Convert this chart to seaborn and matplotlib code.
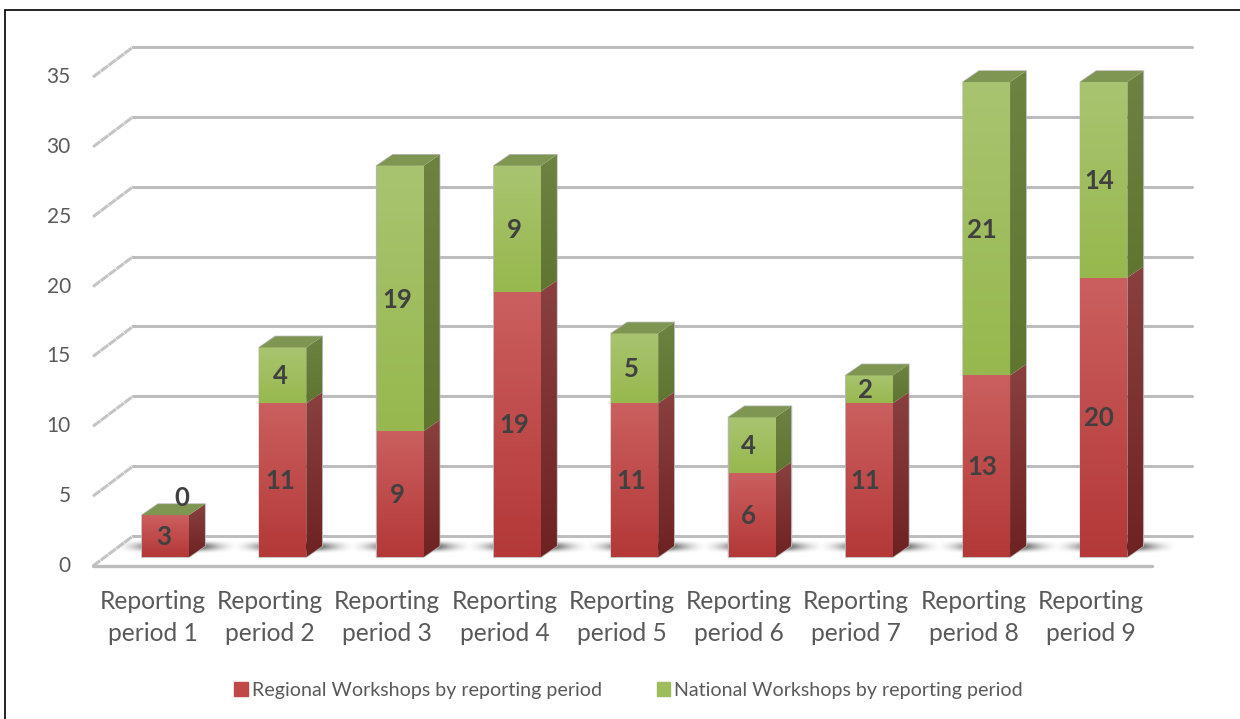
import numpy as np
import seaborn as sns
import matplotlib.pyplot as plt
from matplotlib.patches import Polygon, Rectangle, Patch
from matplotlib.transforms import Affine2D

periods = ['Reporting\nperiod %d' % i for i in range(1, 10)]
regional = [3, 11, 9, 19, 11, 6, 11, 13, 20]
national = [0, 4, 19, 9, 5, 4, 2, 21, 14]
y_ticks = [0, 5, 10, 15, 20, 25, 30, 35]
series_names = ['Regional Workshops by reporting period', 'National Workshops by reporting period']

W, H = 1240, 719
PX_X = 117.3   # pixels per category
PX_Y = 13.97   # pixels per workshop
DX, DY = 16, 11  # bar depth in pixels

sns.set_theme(style='white')
plt.rcParams['font.family'] = ['Lato', 'DejaVu Sans']

fig = plt.figure(figsize=(W / 100, H / 100), dpi=100)
left, right = 93, 1152
y0, ytop = 557, 47
ax = fig.add_axes([left / W, (H - y0) / H, (right - left) / W, (y0 - ytop) / H])

sns.barplot(x=periods, y=regional, color='#C04848', width=0.4, ax=ax, zorder=3, linewidth=0)
sns.barplot(x=periods, y=national, bottom=regional, color='#A0BD5E', width=0.4, ax=ax, zorder=3, linewidth=0)

first_x = (165.5 - left) / PX_X
ax.set_xlim(-first_x, (right - left) / PX_X - first_x)
ax.set_ylim(0, (y0 - ytop) / PX_Y)
ax.set_xlabel('')
ax.set_ylabel('')
for s in ax.spines.values():
    s.set_visible(False)

ax.set_yticks(y_ticks)
ax.tick_params(axis='y', length=0, pad=16, labelsize=15, labelcolor='#595959')
ax.tick_params(axis='x', length=0, pad=24, labelsize=17.7, labelcolor='#595959')
for lab in ax.get_yticklabels():
    lab.set_transform(lab.get_transform() + Affine2D().translate(0, -7))
for lab in ax.get_xticklabels():
    lab.set_linespacing(1.47)
    lab.set_transform(lab.get_transform() + Affine2D().translate(-13, 0))

ddx, ddy = DX / PX_X, DY / PX_Y
xlim, ylim = ax.get_xlim(), ax.get_ylim()


def vgrad(c_top, c_bot, extent, clip, z):
    rgb = np.linspace(plt.matplotlib.colors.to_rgb(c_top), plt.matplotlib.colors.to_rgb(c_bot), 64)[:, None, :]
    im = ax.imshow(rgb, extent=extent, aspect='auto', origin='upper', zorder=z, interpolation='bilinear')
    im.set_clip_path(clip)


# wall, floor and grid lines
grid_c = '#BDBDBD'
wall_up = 21 / PX_Y
front_down = 9 / PX_Y
back_x0 = xlim[0] + 40 / PX_X
back_x1 = xlim[1] + 40 / PX_X
for v in y_ticks:
    ax.plot([xlim[0], back_x0], [v - front_down, v + wall_up], color='#C4C4C4', lw=2.2, ls=(0, (3, 0.2)),
            clip_on=False, zorder=1)
    ax.plot([back_x0, back_x1], [v + wall_up, v + wall_up], color=grid_c, lw=2.2, clip_on=False, zorder=1,
            solid_capstyle='round')
ax.plot([xlim[0], xlim[1]], [-front_down, -front_down], color=grid_c, lw=2.4, clip_on=False, zorder=1)

# soft floor shadow behind every bar, faded to nothing at its edges
xs = np.linspace(-1, 1, 120)
ys = np.linspace(-1, 1, 32)
alpha = np.exp(-(xs[None, :] * 1.6) ** 2) * np.exp(-(ys[:, None] * 1.7) ** 2)
alpha = alpha * (1 - xs[None, :] ** 4) * (1 - ys[:, None] ** 4)
shadow = np.zeros(alpha.shape + (4,))
shadow[..., 3] = alpha
for i in range(len(periods)):
    ax.imshow(shadow, extent=[i - 50 / PX_X, i + 72 / PX_X, 3 / PX_Y, 18 / PX_Y], aspect='auto',
              zorder=1.5, clip_on=False, interpolation='bilinear')

n = len(periods)
red_bars = ax.patches[:n]
green_bars = ax.patches[n:]

# faint grey halo round each bar
for i, (r, g) in enumerate(zip(regional, national)):
    t = r + g
    ax.add_patch(Polygon([(i - 0.2, 0), (i + 0.2, 0), (i + 0.2 + ddx, ddy), (i + 0.2 + ddx, t + ddy),
                          (i - 0.2 + ddx, t + ddy), (i - 0.2, t)], closed=True, fc='none', ec='#B4B4B4',
                         lw=1.1, zorder=2.5, clip_on=False))

styles = [(red_bars, '#CB5F5F', '#B43838', '#8B4040', '#6E2222'),
          (green_bars, '#A9C470', '#97B84E', '#6E8242', '#5F7530')]
for bars, top, bot, s_top, s_bot in styles:
    for b in bars:
        x0, x1 = b.get_x(), b.get_x() + b.get_width()
        y1, y2 = b.get_y(), b.get_y() + b.get_height()
        if b.get_height() == 0:
            continue
        b.set_facecolor('none')
        vgrad(top, bot, [x0, x1, y1, y2], b, 3)
        side = Polygon([(x1, y1), (x1 + ddx, y1 + ddy), (x1 + ddx, y2 + ddy), (x1, y2)], closed=True,
                       fc='none', ec='none', transform=ax.transData)
        ax.add_patch(side)
        vgrad(s_top, s_bot, [x1, x1 + ddx, y1, y2 + ddy], side, 2.9)

# top caps
for i, (r, g) in enumerate(zip(regional, national)):
    x0 = i - 0.2
    x1 = i + 0.2
    t = r + g
    ax.add_patch(Polygon([(x0, t), (x1, t), (x1 + ddx, t + ddy), (x0 + ddx, t + ddy)], closed=True,
                         fc='#7F9653', ec='none', zorder=3.1, clip_on=False))

# data labels
lab_kw = dict(ha='center', va='center', fontsize=18.5, fontweight='bold', color='#404040', zorder=5)
for i, (r, g) in enumerate(zip(regional, national)):
    shift = (-2 - 0.35 * i) / PX_X
    ax.text(i + shift, r / 2 - 1 / PX_Y, str(r), **lab_kw)
    if g == 0:
        ax.text(i + 16 / PX_X, r + 17 / PX_Y, str(g), **lab_kw)
    else:
        ax.text(i + shift, r + g / 2 - 1 / PX_Y, str(g), **lab_kw)

ax.set_xlim(xlim)
ax.set_ylim(ylim)

handles = [Patch(color='#C04848'), Patch(color='#A0BD5E')]
fig.legend(handles, series_names, ncol=2, loc='center', bbox_to_anchor=(628.5 / W, (H - 690.5) / H), frameon=False,
           fontsize=14.15, labelcolor='#595959', handlelength=0.68, handleheight=0.68, handletextpad=0.2,
           columnspacing=2.8, borderpad=0)

# outer frame, runs off the right and bottom edges
fig.add_artist(Rectangle((4.5 / W, -0.02), 1.02, (H - 9.5) / H + 0.02, transform=fig.transFigure,
                         fc='none', ec='black', lw=1.2))

fig.savefig('out.png', dpi=100)
